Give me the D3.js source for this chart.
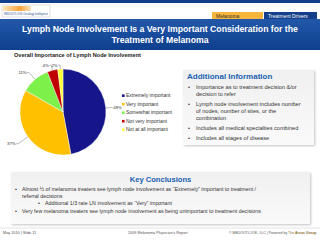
<!DOCTYPE html>
<html>
<head>
<meta charset="utf-8">
<script src="https://cdn.jsdelivr.net/npm/d3@7"></script>
<style>
  body { margin: 0; background: #fff; }
  svg { display: block; font-family: 'Liberation Sans', Arial, sans-serif; }
</style>
</head>
<body>
<div id="root"></div>
<script>
// data
const categories = ['Extremely important', 'Very important', 'Somewhat important', 'Not very important', 'Not at all important']
const shares = [48, 37, 11, 4, 2]
const sliceColors = ['#16168a', '#ffc000', '#7df04a', '#c00000', '#ffff3c']
const infoLines = [
  ['Importance as to treatment decision &/or', 'decision to refer'],
  ['Lymph node involvement includes number', 'of nodes, number of sites, or the', 'combination'],
  ['Includes all medical specialties combined'],
  ['Includes all stages of disease']
]
const conclusions = [
  { level: 0, lines: ['Almost \u00bd of melanoma treaters see lymph node involvement as \u201cExtremely\u201d important to treatment /', 'referral decisions'] },
  { level: 1, lines: ['Additional 1/3 rate LN involvement as \u201cVery\u201d important'] },
  { level: 0, lines: ['Very few melanoma treaters see lymph node involvement as being unimportant to treatment decisions'] }
]

const width = 320
const height = 240
const svg = d3.select('#root').append('svg')
  .attr('width', width)
  .attr('height', height)

const defs = svg.append('defs')
const band = defs.append('linearGradient').attr('id', 'band').attr('x1', 0).attr('y1', 0).attr('x2', 0).attr('y2', 1)
band.append('stop').attr('offset', 0).attr('stop-color', '#2358a8')
band.append('stop').attr('offset', 1).attr('stop-color', '#0e3f8f')
const logo = defs.append('linearGradient').attr('id', 'logo').attr('x1', 0).attr('y1', 0).attr('x2', 1).attr('y2', 0)
logo.append('stop').attr('offset', 0).attr('stop-color', '#fde6b8')
logo.append('stop').attr('offset', 0.6).attr('stop-color', '#f7a53a')
logo.append('stop').attr('offset', 1).attr('stop-color', '#fbe3bb')
const boxGrad = defs.append('linearGradient').attr('id', 'box').attr('x1', 0).attr('y1', 0).attr('x2', 0).attr('y2', 1)
boxGrad.append('stop').attr('offset', 0).attr('stop-color', '#f0f0f0')
boxGrad.append('stop').attr('offset', 1).attr('stop-color', '#fafafa')
const shadow = defs.append('filter').attr('id', 'shadow').attr('x', -0.1).attr('y', -0.1).attr('width', 1.2).attr('height', 1.3)
shadow.append('feDropShadow').attr('dx', 1).attr('dy', 1).attr('stdDeviation', 1).attr('flood-color', '#999').attr('flood-opacity', 0.6)

// header
svg.append('rect').attr('x', 0).attr('y', 0).attr('width', width).attr('height', 3).attr('fill', '#123f8c')
svg.append('rect').attr('x', 2).attr('y', 5).attr('width', 48).attr('height', 12)
  .attr('fill', '#fff').attr('stroke', '#c9c9c9').attr('stroke-width', 0.6)
svg.append('rect').attr('x', 3).attr('y', 6).attr('width', 28).attr('height', 5).attr('fill', 'url(#logo)')
svg.append('text').attr('x', 4).attr('y', 15).attr('font-size', 2.6).attr('fill', '#2b4f8f').text('MEDOUTLOOK  Oncology Intelligence')

svg.append('rect').attr('x', 212).attr('y', 12).attr('width', 51).attr('height', 8).attr('fill', '#f6b53c')
svg.append('text').attr('x', 216).attr('y', 18.2).attr('font-size', 5).attr('fill', '#333').text('Melanoma')
svg.append('rect').attr('x', 264).attr('y', 12).attr('width', 53).attr('height', 8).attr('fill', '#143f8a')
svg.append('text').attr('x', 268).attr('y', 18.2).attr('font-size', 5).attr('fill', '#fff').text('Treatment Drivers')

svg.append('rect').attr('x', 0).attr('y', 19).attr('width', width).attr('height', 31).attr('fill', 'url(#band)')
svg.append('text').attr('x', width / 2).attr('y', 32).attr('text-anchor', 'middle')
  .attr('font-size', 8.7).attr('font-weight', 'bold').attr('fill', '#fff')
  .text('Lymph Node Involvement Is a Very Important Consideration for the')
svg.append('text').attr('x', width / 2).attr('y', 42.5).attr('text-anchor', 'middle')
  .attr('font-size', 8.7).attr('font-weight', 'bold').attr('fill', '#fff')
  .text('Treatment of Melanoma')

svg.append('text').attr('x', 14).attr('y', 57).attr('font-size', 5.6).attr('font-weight', 'bold').attr('fill', '#222')
  .text('Overall Importance of Lymph Node Involvement')

// pie
const cx = 63
const cy = 112
const r = 43
const pie = d3.pie().sort(null).value(d => d)
const arcs = pie(shares)
const arc = d3.arc().innerRadius(0).outerRadius(r)
const pieG = svg.append('g').attr('transform', `translate(${cx},${cy})`)
pieG.selectAll('path')
  .data(arcs)
  .join('path')
  .attr('d', arc)
  .attr('fill', (d, i) => sliceColors[i])
  .attr('stroke', '#fff')
  .attr('stroke-width', 0.4)

// leader lines and percent labels
const midAngle = d => (d.startAngle + d.endAngle) / 2
const polar = (a, rr) => [Math.sin(a) * rr, -Math.cos(a) * rr]
const labelPush = [5, 12, 9, 5, 4]
arcs.forEach((d, i) => {
  const a = midAngle(d)
  const p0 = polar(a, r)
  const p1 = polar(a, r + labelPush[i])
  const right = Math.sin(a) > 0
  const p2 = [p1[0] + (right ? 2 : -2), p1[1]]
  pieG.append('polyline')
    .attr('points', [p0, p1, p2].map(p => p.join(',')).join(' '))
    .attr('fill', 'none').attr('stroke', '#555').attr('stroke-width', 0.4)
  pieG.append('text')
    .attr('x', p2[0] + (right ? 0.5 : -0.5))
    .attr('y', p2[1] + 1.5)
    .attr('text-anchor', right ? 'start' : 'end')
    .attr('font-size', 4.3).attr('fill', '#333')
    .text(shares[i] + '%')
})

// legend
const legend = svg.append('g').attr('transform', 'translate(122,96)')
const row = d3.scaleBand().domain(categories).range([0, 42.5])
legend.selectAll('rect')
  .data(categories)
  .join('rect')
  .attr('x', 0).attr('y', d => row(d) - 1.6)
  .attr('width', 2.6).attr('height', 2.6)
  .attr('fill', (d, i) => sliceColors[i])
legend.selectAll('text')
  .data(categories)
  .join('text')
  .attr('x', 4).attr('y', d => row(d) + 1)
  .attr('font-size', 5).attr('fill', '#333')
  .text(d => d)

// additional information box
const info = svg.append('g').attr('transform', 'translate(183,70)')
info.append('rect').attr('width', 131).attr('height', 75).attr('fill', 'url(#box)').attr('filter', 'url(#shadow)')
info.append('text').attr('x', 4).attr('y', 9).attr('font-size', 8).attr('font-weight', 'bold').attr('fill', '#2060b0')
  .text('Additional Information')
let iy = 18.5
infoLines.forEach(lines => {
  info.append('text').attr('x', 5).attr('y', iy).attr('font-size', 5.6).attr('fill', '#333').text('\u2022')
  lines.forEach(line => {
    info.append('text').attr('x', 13).attr('y', iy).attr('font-size', 5.6).attr('fill', '#333').text(line)
    iy += 7.2
  })
  iy += 2.6
})

// key conclusions box
const kc = svg.append('g').attr('transform', 'translate(11,172)')
kc.append('rect').attr('width', 299).attr('height', 52).attr('fill', 'url(#box)').attr('filter', 'url(#shadow)')
kc.append('text').attr('x', 149.5).attr('y', 9.5).attr('text-anchor', 'middle')
  .attr('font-size', 7.6).attr('font-weight', 'bold').attr('fill', '#2060b0')
  .text('Key Conclusions')
let ky = 19
conclusions.forEach(c => {
  const bx = c.level ? 27 : 4
  kc.append('text').attr('x', bx).attr('y', ky).attr('font-size', 5.3).attr('fill', '#333').text('\u2022')
  c.lines.forEach(line => {
    kc.append('text').attr('x', bx + 7).attr('y', ky).attr('font-size', 5.3).attr('fill', '#333').text(line)
    ky += 7.2
  })
})

// footer
svg.append('line').attr('x1', 0).attr('x2', width).attr('y1', 228).attr('y2', 228).attr('stroke', '#d0d0d0').attr('stroke-width', 0.6)
svg.append('text').attr('x', 3).attr('y', 234).attr('font-size', 3.8).attr('fill', '#555').text('May 2010 | Slide 11')
svg.append('text').attr('x', 128).attr('y', 234).attr('font-size', 3.8).attr('fill', '#555').text('2009 Melanoma Physician\u2019s Report')
const foot = svg.append('text').attr('x', 229).attr('y', 234).attr('font-size', 3.5).attr('fill', '#555')
foot.append('tspan').text('\u00a9 MEDOUTLOOK, LLC | Powered by ')
foot.append('tspan').attr('fill', '#8a6a2a').text('The ')
foot.append('tspan').attr('fill', '#8a6a2a').attr('font-weight', 'bold').text('Arcus Group')
</script>
</body>
</html>
